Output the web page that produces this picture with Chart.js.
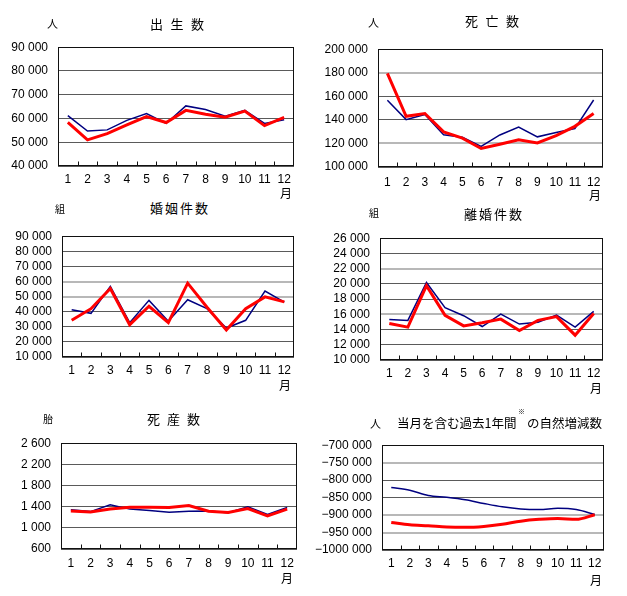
<!DOCTYPE html>
<html><head><meta charset="utf-8">
<script src="https://cdn.jsdelivr.net/npm/chart.js@4/dist/chart.umd.min.js"></script>
<style>
html,body{margin:0;padding:0;background:#fff;}
#wrap{position:relative;width:627px;height:596px;background:#fff;overflow:hidden;}
canvas{position:absolute;}
.t{position:absolute;font-family:"Noto Sans CJK JP","Noto Sans",sans-serif;color:#000;white-space:nowrap;}
</style></head>
<body><div id="wrap"></div>
<script>
const months = ['1','2','3','4','5','6','7','8','9','10','11','12'];

// 出生数
const birthBlue = [61200,54700,55200,59200,62100,57900,65300,63800,61000,63400,57900,59500];
const birthRed  = [58400,51000,53600,57300,60800,58300,63400,61800,60500,63100,57000,60500];
// 死亡数
const deathBlue = [156700,140200,144600,127400,125300,117500,127200,133900,125600,129200,132600,156900];
const deathRed  = [179400,143100,145400,129800,124500,115700,119300,123200,120400,126600,134500,145400];
// 婚姻件数
const marriageBlue = [41300,38900,56800,32700,47500,33700,47900,42000,29200,34300,53700,46300];
const marriageRed  = [34300,42000,55400,31400,43600,32700,58900,43000,27900,42000,49800,46500];
// 離婚件数
const divorceBlue = [15330,15200,20180,16880,15820,14400,16030,14720,14970,15900,14320,16390];
const divorceRed  = [14800,14320,19770,15860,14480,14890,15370,13870,15210,15700,13260,16110];
// 死産数
const stillBlue = [1342,1307,1435,1354,1330,1296,1313,1319,1284,1400,1255,1383];
const stillRed  = [1319,1301,1354,1388,1388,1383,1423,1313,1290,1365,1226,1354];
// 当月を含む過去1年間の自然増減数
const naturalBlue = [-821000,-829000,-843900,-849100,-856100,-866700,-876300,-882500,-884200,-880700,-884200,-898200];
const naturalRed  = [-921000,-928000,-930700,-934200,-935100,-932500,-926300,-917500,-912300,-909600,-912300,-899000];

// axis ranges: [min, max, step]
const birthAxis = [40000, 90000, 10000];
const deathAxis = [100000, 200000, 20000];
const marriageAxis = [10000, 90000, 10000];
const divorceAxis = [10000, 26000, 2000];
const stillAxis = [600, 2600, 400];
const naturalAxis = [-1000000, -700000, 50000];

const titles = ['出生数','死亡数','婚姻件数','離婚件数','死産数'];
const units = ['人','人','組','組','胎','人'];
const monthWord = '月';

function fmt(v){
  const neg = v < 0;
  const n = Math.abs(Math.round(v));
  const s = n >= 1000 ? Math.floor(n/1000) + ' ' + String(n % 1000).padStart(3,'0') : String(n);
  return (neg ? '−' : '') + s;
}

const wrap = document.getElementById('wrap');
function addText(txt, left, cy, size, extra){
  const d = document.createElement('div');
  d.className = 't';
  d.textContent = txt;
  d.style.left = left + 'px';
  d.style.top = (cy - size/2) + 'px';
  d.style.fontSize = size + 'px';
  d.style.lineHeight = size + 'px';
  if (extra) Object.assign(d.style, extra);
  wrap.appendChild(d);
  return d;
}

const framePlugin = {
  id: 'frame',
  beforeDatasetsDraw(chart){
    const {ctx, chartArea: a} = chart;
    ctx.save();
    ctx.strokeStyle = '#111';
    ctx.lineWidth = 1;
    const l = Math.round(a.left)+0.5, t = Math.round(a.top)+0.5, r = Math.round(a.right)-0.5, b = Math.round(a.bottom)-0.5;
    ctx.strokeRect(l, t, r-l, b-t);
    const n = chart.data.labels.length;
    const w = (a.right - a.left) / n;
    ctx.beginPath();
    for (let i = 1; i < n; i++){
      const x = Math.round(a.left + i*w) + 0.5;
      ctx.moveTo(x, b); ctx.lineTo(x, b - 4);
    }
    ctx.stroke();
    ctx.restore();
  }
};

const tickFont = {family: '"Liberation Sans", Arial, sans-serif', size: 12};

function makeChart(rect, blue, red, axis, lightVals, smooth, xPad){
  const PADL = 72, PADT = 8, PADR = 8, XH = 28;
  const pw = rect.r - rect.l, ph = rect.b - rect.t;
  const c = document.createElement('canvas');
  const W = pw + PADL + PADR, H = ph + PADT + XH;
  c.width = W; c.height = H;
  c.style.left = (rect.l - PADL) + 'px';
  c.style.top = (rect.t - PADT) + 'px';
  c.style.width = W + 'px'; c.style.height = H + 'px';
  wrap.appendChild(c);
  new Chart(c, {
    type: 'line',
    data: {
      labels: months,
      datasets: [
        {data: red, borderColor: '#ff0000', borderWidth: 3, pointRadius: 0, fill: false,
         cubicInterpolationMode: smooth ? 'monotone' : 'default', tension: 0},
        {data: blue, borderColor: '#000080', borderWidth: 1.5, pointRadius: 0, fill: false,
         cubicInterpolationMode: smooth ? 'monotone' : 'default', tension: 0}
      ]
    },
    options: {
      responsive: false, animation: false, devicePixelRatio: 1,
      layout: {padding: {left: 0, top: PADT, right: PADR, bottom: 0}},
      plugins: {legend: {display: false}, tooltip: {enabled: false}, title: {display: false}},
      scales: {
        x: {
          type: 'category', offset: true,
          grid: {display: false, drawTicks: false},
          border: {display: false},
          ticks: {font: tickFont, color: '#000', padding: xPad, maxRotation: 0, autoSkip: false},
          afterFit(s){ s.height = XH; }
        },
        y: {
          min: axis[0], max: axis[1],
          grid: {
            drawTicks: false,
            color: ctx => (ctx.tick && lightVals.includes(ctx.tick.value)) ? '#b8b8b8' : '#5a5a5a',
            lineWidth: ctx => (ctx.tick && lightVals.includes(ctx.tick.value)) ? 2 : 1
          },
          border: {display: false},
          ticks: {stepSize: axis[2], autoSkip: false, font: tickFont, color: '#000', padding: 10, callback: v => fmt(v)},
          afterFit(s){ s.width = PADL; }
        }
      }
    },
    plugins: [framePlugin]
  });
}

makeChart({l:58, t:38, r:294, b:166}, birthBlue, birthRed, birthAxis, [], false, 6);
makeChart({l:378, t:40, r:603, b:167}, deathBlue, deathRed, deathAxis, [120000,180000], false, 8);
makeChart({l:62, t:227, r:294, b:357}, marriageBlue, marriageRed, marriageAxis, [50000,60000], false, 6);
makeChart({l:380, t:229, r:603, b:360}, divorceBlue, divorceRed, divorceAxis, [16000,22000], false, 6);
makeChart({l:61, t:434, r:297, b:549}, stillBlue, stillRed, stillAxis, [], false, 7);
makeChart({l:382, t:436, r:604, b:550}, naturalBlue, naturalRed, naturalAxis, [-750000,-900000,-950000], true, 6);

// titles
addText(titles[0], 150, 23, 13, {letterSpacing: '7.5px'});
addText(titles[1], 465, 20, 13, {letterSpacing: '7.5px'});
addText(titles[2], 150, 207, 13, {letterSpacing: '2px'});
addText(titles[3], 464, 213, 13, {letterSpacing: '2px'});
addText(titles[4], 147, 418, 13, {letterSpacing: '7px'});
addText('当月を含む過去1年間', 397, 423, 12.5);
addText('※', 518, 411, 7);
addText('の自然増減数', 527, 423, 12.5);

// units
addText(units[0], 47, 23, 11);
addText(units[1], 368, 22, 11);
addText(units[2], 55, 209, 10);
addText(units[3], 369, 213, 10);
addText(units[4], 43, 419, 10);
addText(units[5], 370, 423, 11);

// month label
addText(monthWord, 280, 193, 12);
addText(monthWord, 589, 195, 12);
addText(monthWord, 279, 385, 12);
addText(monthWord, 590, 388, 12);
addText(monthWord, 281, 578, 12);
addText(monthWord, 590, 580, 12);
</script>
</body></html>
